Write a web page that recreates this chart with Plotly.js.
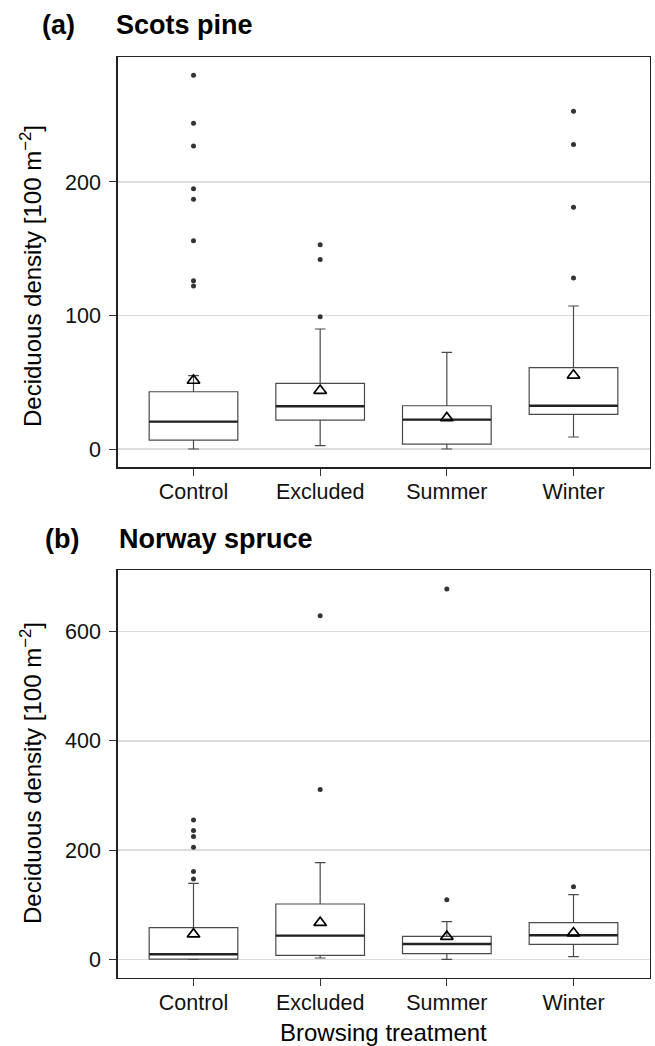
<!DOCTYPE html>
<html>
<head>
<meta charset="utf-8">
<script src="https://cdn.plot.ly/plotly-3.0.1.min.js"></script>
<style>html,body{margin:0;padding:0;background:#fff;}</style>
</head>
<body>
<div id="chart" style="width:655px;height:1046px;"></div>
<script>
// ---------- data ----------
const categories = ['Control', 'Excluded', 'Summer', 'Winter'];

// (a) Scots pine
const pineQ1 = [6.7, 21.7, 3.7, 26];
const pineMedian = [20.5, 32, 22, 32.4];
const pineQ3 = [42.9, 49.2, 32.4, 60.9];
const pineLowerWhisker = [0, 2.5, 0, 9];
const pineUpperWhisker = [55, 89.9, 72.4, 107.1];
const pineMean = [51.3, 43.8, 23.3, 55.2];
const pineOutControl = [280, 244, 227, 195, 187, 156, 126, 122];
const pineOutExcluded = [153, 142, 99];
const pineOutSummer = [];
const pineOutWinter = [253, 228, 181, 128];

// (b) Norway spruce
const spruceQ1 = [0.5, 7.3, 10.3, 27.5];
const spruceMedian = [9.2, 43.3, 28, 44];
const spruceQ3 = [57.9, 101.3, 42, 67];
const spruceLowerWhisker = [0, 2.4, 0, 4.8];
const spruceUpperWhisker = [139, 177, 68.9, 118.3];
const spruceMean = [46, 67, 41.5, 48];
const spruceOutControl = [255, 236, 225, 205, 161, 147];
const spruceOutExcluded = [629, 311];
const spruceOutSummer = [678, 109];
const spruceOutWinter = [133];

const yTicksPine = [0, 100, 200];
const yTicksSpruce = [0, 200, 400, 600];

// ---------- build ----------
const pos = categories.map((c, i) => i);

function panelTraces(q1, med, q3, lo, hi, mean, outs, xa, ya) {
  const traces = [];
  traces.push({
    type: 'box', x: pos, q1: q1, median: med, q3: q3,
    lowerfence: lo, upperfence: hi,
    width: 0.7, whiskerwidth: 0.12, boxpoints: false,
    fillcolor: '#ffffff', line: {color: '#4a4a4a', width: 1.2},
    xaxis: xa, yaxis: ya, hoverinfo: 'skip'
  });
  // thicker median line
  traces.push({
    type: 'scatter', mode: 'markers', x: pos, y: med,
    marker: {size: 1, color: 'rgba(0,0,0,0)'},
    error_x: {type: 'constant', value: 0.35, width: 0, thickness: 2.4, color: '#222222'},
    xaxis: xa, yaxis: ya, hoverinfo: 'skip'
  });
  // outliers
  const ox = [], oy = [];
  outs.forEach((arr, i) => arr.forEach(v => { ox.push(pos[i]); oy.push(v); }));
  traces.push({
    type: 'scatter', mode: 'markers', x: ox, y: oy,
    marker: {size: 5, color: '#333333'},
    xaxis: xa, yaxis: ya, hoverinfo: 'skip'
  });
  // means
  traces.push({
    type: 'scatter', mode: 'markers', x: pos, y: mean,
    marker: {symbol: 'triangle-up-open', size: 11, color: '#000000', line: {width: 1.7, color: '#000000'}},
    xaxis: xa, yaxis: ya, hoverinfo: 'skip'
  });
  return traces;
}

const data = [].concat(
  panelTraces(pineQ1, pineMedian, pineQ3, pineLowerWhisker, pineUpperWhisker, pineMean,
    [pineOutControl, pineOutExcluded, pineOutSummer, pineOutWinter], 'x', 'y'),
  panelTraces(spruceQ1, spruceMedian, spruceQ3, spruceLowerWhisker, spruceUpperWhisker, spruceMean,
    [spruceOutControl, spruceOutExcluded, spruceOutSummer, spruceOutWinter], 'x2', 'y2')
);

const W = 655, H = 1046;
const xDom = [117.5 / W, 649.5 / W];
const yDomTop = [1 - 467.3 / H, 1 - 57 / H];
const yDomBot = [1 - 977.7 / H, 1 - 570 / H];

const xBase = {
  domain: xDom, range: [-0.6, 3.6], tickvals: pos, ticktext: categories,
  ticks: 'outside', ticklen: 7, tickwidth: 1, tickcolor: '#333333',
  showline: true, mirror: true, linecolor: '#222222', linewidth: 1.3,
  showgrid: false, zeroline: false, automargin: false,
  tickfont: {size: 21.5, color: '#111111'}, fixedrange: true,
  ticklabelstandoff: -2
};
const yBase = {
  ticks: 'outside', ticklen: 7, tickwidth: 1, tickcolor: '#333333',
  showline: true, mirror: true, linecolor: '#222222', linewidth: 1.3,
  showgrid: true, gridcolor: '#dcdcdc', gridwidth: 1.5, zeroline: false,
  automargin: false, tickfont: {size: 21.5, color: '#111111'}, fixedrange: true,
  ticklabelstandoff: 4
};

const yTitle = 'Deciduous density [100 m<sup>\u22122</sup>]';

const layout = {
  width: W, height: H,
  margin: {l: 0, r: 0, t: 0, b: 0},
  paper_bgcolor: '#ffffff', plot_bgcolor: '#ffffff',
  showlegend: false,
  font: {family: 'Liberation Sans, Arial, sans-serif', color: '#000000'},
  xaxis: Object.assign({}, xBase, {anchor: 'y'}),
  yaxis: Object.assign({}, yBase, {anchor: 'x', domain: yDomTop, range: [-13.7, 293.6], tickvals: yTicksPine}),
  xaxis2: Object.assign({}, xBase, {anchor: 'y2'}),
  yaxis2: Object.assign({}, yBase, {anchor: 'x2', domain: yDomBot, range: [-33.7, 713], tickvals: yTicksSpruce}),
  annotations: [
    {text: '<b>(a)</b>', xref: 'paper', yref: 'paper', x: 40 / W, y: 1 - 25 / H, xanchor: 'left', yanchor: 'middle', showarrow: false, font: {size: 27}},
    {text: '<b>Scots pine</b>', xref: 'paper', yref: 'paper', x: 114 / W, y: 1 - 25 / H, xanchor: 'left', yanchor: 'middle', showarrow: false, font: {size: 27}},
    {text: '<b>(b)</b>', xref: 'paper', yref: 'paper', x: 43 / W, y: 1 - 539 / H, xanchor: 'left', yanchor: 'middle', showarrow: false, font: {size: 27}},
    {text: '<b>Norway spruce</b>', xref: 'paper', yref: 'paper', x: 117 / W, y: 1 - 539 / H, xanchor: 'left', yanchor: 'middle', showarrow: false, font: {size: 27}},
    {text: yTitle, xref: 'paper', yref: 'paper', x: 31 / W, y: 1 - 276 / H, xanchor: 'center', yanchor: 'middle', textangle: -90, showarrow: false, font: {size: 24}},
    {text: yTitle, xref: 'paper', yref: 'paper', x: 31 / W, y: 1 - 773 / H, xanchor: 'center', yanchor: 'middle', textangle: -90, showarrow: false, font: {size: 24}},
    {text: 'Browsing treatment', xref: 'paper', yref: 'paper', x: 383.5 / W, y: 1 - 1032 / H, xanchor: 'center', yanchor: 'middle', showarrow: false, font: {size: 24}}
  ]
};

Plotly.newPlot('chart', data, layout, {displayModeBar: false, staticPlot: true});
</script>
</body>
</html>
